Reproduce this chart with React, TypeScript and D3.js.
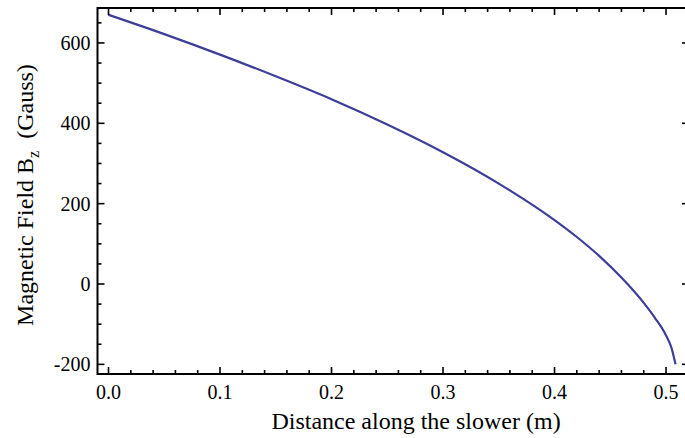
import React from "react";
import * as d3 from "d3";

const distance = [0, 0.05, 0.1, 0.15, 0.2, 0.25, 0.3, 0.35, 0.4, 0.42, 0.44, 0.46, 0.48, 0.49, 0.5, 0.505, 0.5085];
const field = [670, 622, 571, 517, 460, 397, 328, 250, 159, 117, 70, 16, -47, -84, -128, -160, -200];

const xTicks = [0, 0.1, 0.2, 0.3, 0.4, 0.5];
const xTickLabels = ["0.0", "0.1", "0.2", "0.3", "0.4", "0.5"];
const yTicks = [-200, 0, 200, 400, 600];
const yTickLabels = ["-200", "0", "200", "400", "600"];

const W = 685;
const H = 438;
const L = 97.5, R = 689, T = 8, B = 374;

export default function App() {
  const x = d3.scaleLinear().domain([-0.00987, 0.5206]).range([L, R]);
  const y = d3.scaleLinear().domain([-224, 687]).range([B, T]);
  const xMinor = d3.range(0, 0.521, 0.02).filter((v) => x(v) >= L && x(v) <= R);
  const yMinor = d3.range(-200, 687, 50);
  const pts = distance.map((d, i) => [d, field[i]] as [number, number]);
  const line = d3
    .line<[number, number]>()
    .x((d) => x(d[0]))
    .y((d) => y(d[1]))
    .curve(d3.curveMonotoneX);
  const font = "'Liberation Serif', 'Times New Roman', serif";
  const isMajorX = (v: number) => xTicks.some((t) => Math.abs(t - v) < 1e-6);
  const isMajorY = (v: number) => yTicks.some((t) => Math.abs(t - v) < 1e-6);
  return (
    <svg width={W} height={H} style={{ position: "absolute", left: 0, top: 0, background: "#fff" }}>
      <path d={line(pts) || ""} fill="none" stroke="#3d3d9a" strokeWidth={2.2} />
      {xMinor.map((v, i) => {
        const len = isMajorX(v) ? 7 : 4;
        const px = x(v);
        return (
          <g key={"xt" + i}>
            <line x1={px} x2={px} y1={B} y2={B - len} stroke="#000" strokeWidth={1.6} />
            <line x1={px} x2={px} y1={T} y2={T + len} stroke="#000" strokeWidth={1.6} />
          </g>
        );
      })}
      {yMinor.map((v, i) => {
        const len = isMajorY(v) ? 7 : 4;
        const py = y(v);
        return (
          <g key={"yt" + i}>
            <line x1={L} x2={L + len} y1={py} y2={py} stroke="#000" strokeWidth={1.6} />
            <line x1={R} x2={R - len} y1={py} y2={py} stroke="#000" strokeWidth={1.6} />
          </g>
        );
      })}
      <rect x={L} y={T} width={R - L} height={B - T} fill="none" stroke="#000" strokeWidth={2} />
      {xTicks.map((v, i) => (
        <text key={"xl" + i} x={x(v)} y={B + 25} textAnchor="middle" fontFamily={font} fontSize={20} fill="#000">
          {xTickLabels[i]}
        </text>
      ))}
      {yTicks.map((v, i) => (
        <text key={"yl" + i} x={L - 7} y={y(v) + 7} textAnchor="end" fontFamily={font} fontSize={20} fill="#000">
          {yTickLabels[i]}
        </text>
      ))}
      <text x={416} y={429} textAnchor="middle" fontFamily={font} fontSize={24} fill="#000">
        Distance along the slower (m)
      </text>
      <text
        transform={`translate(33, 195) rotate(-90)`}
        textAnchor="middle"
        fontFamily={font}
        fontSize={24}
        fill="#000"
      >
        Magnetic Field B<tspan dy={6} fontSize={16}>z</tspan>
        <tspan dy={-6}>{"\u00a0\u00a0(Gauss)"}</tspan>
      </text>
    </svg>
  );
}
